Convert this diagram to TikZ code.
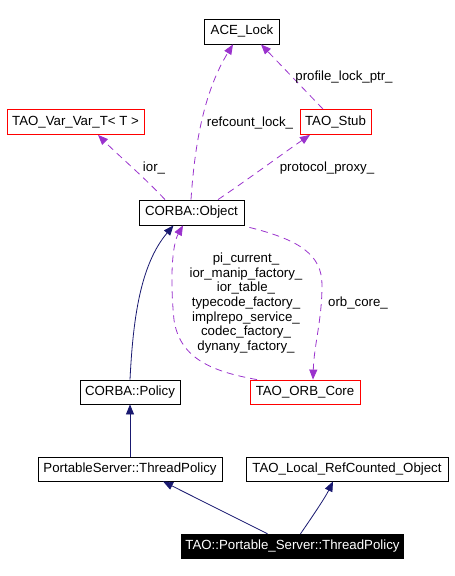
\documentclass[tikz,border=0pt]{standalone}
\usepackage{fontspec}
\setmainfont{Liberation Sans}
\usetikzlibrary{arrows.meta}
\definecolor{edgepurple}{RGB}{154,50,205}
\definecolor{edgenavy}{RGB}{25,25,112}
\begin{document}
\begin{tikzpicture}[x=1bp,y=-1bp,
  every node/.style={font=\fontsize{13.3}{14.7}\selectfont, inner sep=0pt},
  cls/.style={draw=black, line width=0.8bp, minimum height=25bp},
  redcls/.style={draw=red, line width=0.8bp, minimum height=25bp},
  focus/.style={fill=black, text=white, minimum height=25bp},
  usage/.style={draw=edgepurple, line width=0.8bp, dash pattern=on 7bp off 5bp, -{Triangle[length=10bp,width=8bp]}},
  inherit/.style={draw=edgenavy, line width=0.8bp, -{Triangle[length=10bp,width=8bp]}},
  lbl/.style={align=center}
]
\useasboundingbox (0,0) rectangle (455,576);
\node[cls, minimum width=75bp] (ace) at (242,31.5) {ACE\_Lock};
\node[redcls, minimum width=137bp] (var) at (75.5,122) {TAO\_Var\_Var\_T< T >};
\node[redcls, minimum width=71bp] (stub) at (335.5,122) {TAO\_Stub};
\node[cls, minimum width=105bp] (obj) at (191.5,212.5) {CORBA::Object};
\node[cls, minimum width=100bp, minimum height=24bp] (policy) at (130,392) {CORBA::Policy};
\node[redcls, minimum width=110bp, minimum height=24bp] (orb) at (305,392) {TAO\_ORB\_Core};
\node[cls, minimum width=184bp, minimum height=24bp] (ps) at (130,469) {PortableServer::ThreadPolicy};
\node[cls, minimum width=202bp, minimum height=24bp] (local) at (347,469) {TAO\_Local\_RefCounted\_Object};
\node[focus, minimum width=223bp] (tps) at (292.5,546.5) {TAO::Portable\_Server::ThreadPolicy};

% usage edges
\draw[usage] ([xshift=-0.5bp]obj.north) .. controls (195,140) and (205,90) .. ([xshift=-9bp]ace.south);
\node[lbl] (l1) at (250,123) {refcount\_lock\_};
\draw[usage] ([xshift=-12.5bp]stub.north) -- ([xshift=19bp]ace.south);
\node[lbl] (l2) at (344,77) {profile\_lock\_ptr\_};
\draw[usage] ([xshift=-26.5bp]obj.north) .. controls (145,178) and (118,155) .. ([xshift=22.5bp]var.south);
\node[lbl] (l3) at (154,168) {ior\_};
\draw[usage] ([xshift=26.5bp]obj.north) .. controls (250,178) and (285,152) .. ([xshift=-25.5bp]stub.south);
\node[lbl] (l4) at (327,168) {protocol\_proxy\_};
\draw[usage] ([xshift=5bp,yshift=-2bp]obj.south east) .. controls (300,240) and (322,255) .. (322,285) .. controls (322,320) and (314,345) .. ([xshift=8bp]orb.north);
\node[lbl] (l5) at (358,303) {orb\_core\_};
\draw[usage] ([xshift=-48bp]orb.north) .. controls (215,372) and (180,360) .. (174,320) .. controls (170,280) and (172,245) .. ([xshift=-8.5bp]obj.south);
\node[lbl] (l6) at (246,303) {pi\_current\_\\ior\_manip\_factory\_\\ior\_table\_\\typecode\_factory\_\\implrepo\_service\_\\codec\_factory\_\\dynany\_factory\_};

% inheritance edges
\draw[inherit] (policy.north) .. controls (133,320) and (140,265) .. ([xshift=-18bp]obj.south);
\draw[inherit] (ps.north) -- (policy.south);
\draw[inherit] ([xshift=-25bp]tps.north) -- ([xshift=33bp]ps.south);
\draw[inherit] ([xshift=8bp]tps.north) .. controls (310,520) and (325,498) .. ([xshift=-14bp]local.south);
\end{tikzpicture}
\end{document}
